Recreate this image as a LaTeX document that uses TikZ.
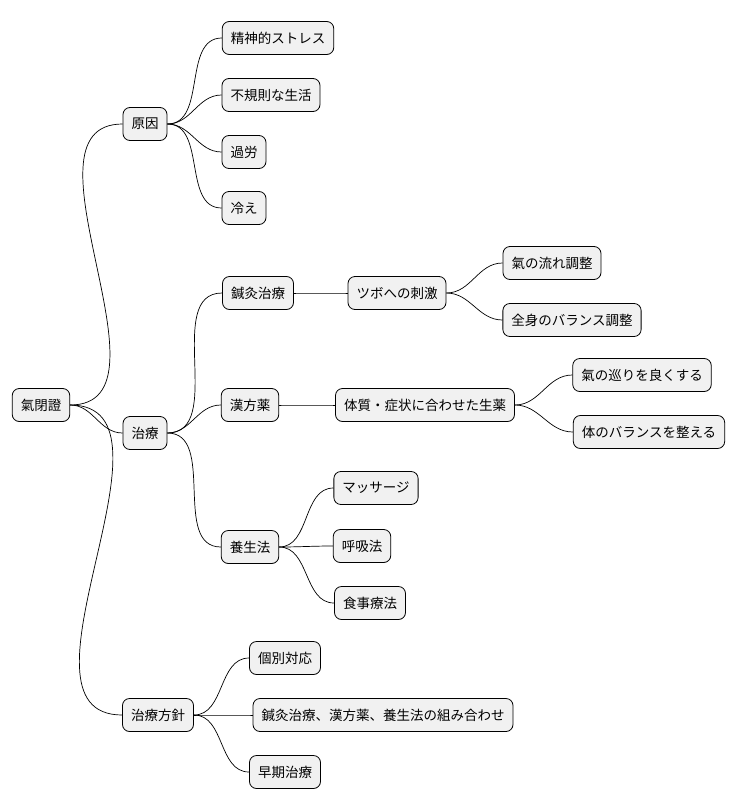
\documentclass[tikz,border=0pt]{standalone}
\usepackage{fontspec}
\setmainfont{Noto Sans CJK JP}
\begin{document}
\begin{tikzpicture}[x=1pt,y=-1pt,
  box/.style={draw=black,fill=black!5.5,rounded corners=7pt,line width=0.8pt,minimum height=33pt,inner xsep=8.5pt,font=\fontsize{13.5}{16}\selectfont},
  link/.style={line width=0.7pt,out=0,in=180}]
\useasboundingbox (0,0) rectangle (740,809);
\node[box] (r) at (41,405) {氣閉證};
\node[box] (a) at (145,124) {原因};
\node[box] (a1) at (278,38) {精神的ストレス};
\node[box] (a2) at (271,95) {不規則な生活};
\node[box] (a3) at (244,152) {過労};
\node[box] (a4) at (244,208) {冷え};
\node[box] (b) at (145,433) {治療};
\node[box] (b1) at (258,293) {鍼灸治療};
\node[box] (b11) at (397,293) {ツボへの刺激};
\node[box] (b111) at (552,263) {氣の流れ調整};
\node[box] (b112) at (572,320) {全身のバランス調整};
\node[box] (b2) at (250,405) {漢方薬};
\node[box] (b21) at (425,405) {体質・症状に合わせた生薬};
\node[box] (b211) at (642,375) {氣の巡りを良くする};
\node[box] (b212) at (649,432) {体のバランスを整える};
\node[box] (b3) at (250,547) {養生法};
\node[box] (b31) at (376,488) {マッサージ};
\node[box] (b32) at (362,546) {呼吸法};
\node[box] (b33) at (370,603) {食事療法};
\node[box] (c) at (158,715) {治療方針};
\node[box] (c1) at (285,658) {個別対応};
\node[box] (c2) at (383,715) {鍼灸治療、漢方薬、養生法の組み合わせ};
\node[box] (c3) at (285,772) {早期治療};
\foreach \p/\c in {r/a,r/b,r/c,a/a1,a/a2,a/a3,a/a4,b/b1,b/b2,b/b3,b1/b11,b11/b111,b11/b112,b2/b21,b21/b211,b21/b212,b3/b31,b3/b32,b3/b33,c/c1,c/c2,c/c3}
  \draw[link] (\p.east) to (\c.west);
\end{tikzpicture}
\end{document}
